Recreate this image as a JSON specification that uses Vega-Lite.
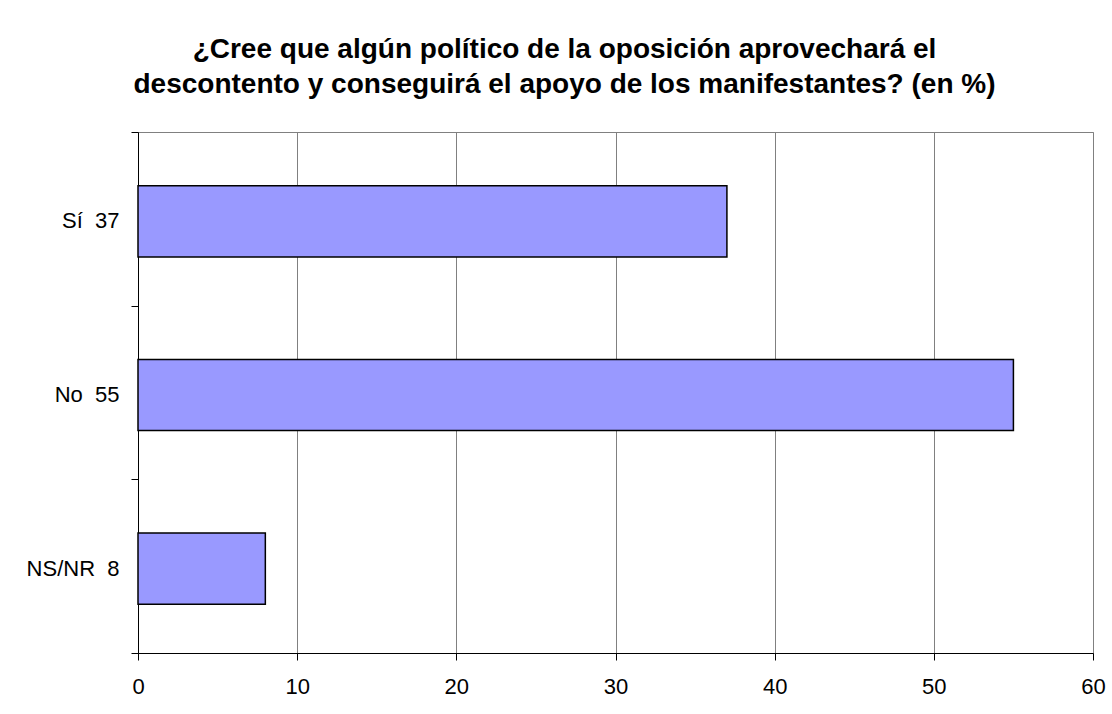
{
  "$schema": "https://vega.github.io/schema/vega-lite/v6.json",
  "autosize": {"type": "none"},
  "width": 955,
  "height": 521,
  "padding": {"left": 138, "top": 132, "right": 19, "bottom": 61},
  "background": "white",
  "title": {
    "text": ["¿Cree que algún político de la oposición aprovechará el", "descontento y conseguirá el apoyo de los manifestantes? (en %)"],
    "font": "Liberation Sans",
    "fontSize": 28,
    "fontWeight": "bold",
    "color": "black",
    "lineHeight": 35,
    "anchor": "middle",
    "dx": -51,
    "offset": 22
  },
  "data": {
    "values": [
      {"categoria": "Sí\u00a0\u00a037", "valor": 37},
      {"categoria": "No\u00a0\u00a055", "valor": 55},
      {"categoria": "NS/NR\u00a0\u00a08", "valor": 8}
    ]
  },
  "mark": {"type": "bar", "fill": "#9999FF", "stroke": "black", "strokeWidth": 1.5, "height": {"band": 0.41}, "yOffset": 2.5},
  "encoding": {
    "y": {
      "field": "categoria",
      "type": "nominal",
      "sort": null,
      "scale": {"paddingInner": 0, "paddingOuter": 0},
      "axis": {
        "title": null,
        "tickBand": "extent",
        "grid": false,
        "domainColor": "black",
        "tickColor": "black",
        "tickSize": 7,
        "labelPadding": 12,
        "labelFont": "Liberation Sans",
        "labelFontSize": 22,
        "labelColor": "black",
        "labelOffset": 2
      }
    },
    "x": {
      "field": "valor",
      "type": "quantitative",
      "scale": {"domain": [0, 60], "nice": false},
      "axis": {
        "title": null,
        "values": [0, 10, 20, 30, 40, 50, 60],
        "grid": true,
        "gridColor": "#808080",
        "gridOpacity": 1,
        "domainColor": "black",
        "tickColor": "black",
        "tickSize": 7,
        "labelPadding": 16,
        "labelFont": "Liberation Sans",
        "labelFontSize": 22,
        "labelColor": "black",
        "labelFlush": false
      }
    }
  },
  "config": {"view": {"stroke": "#808080"}}
}
